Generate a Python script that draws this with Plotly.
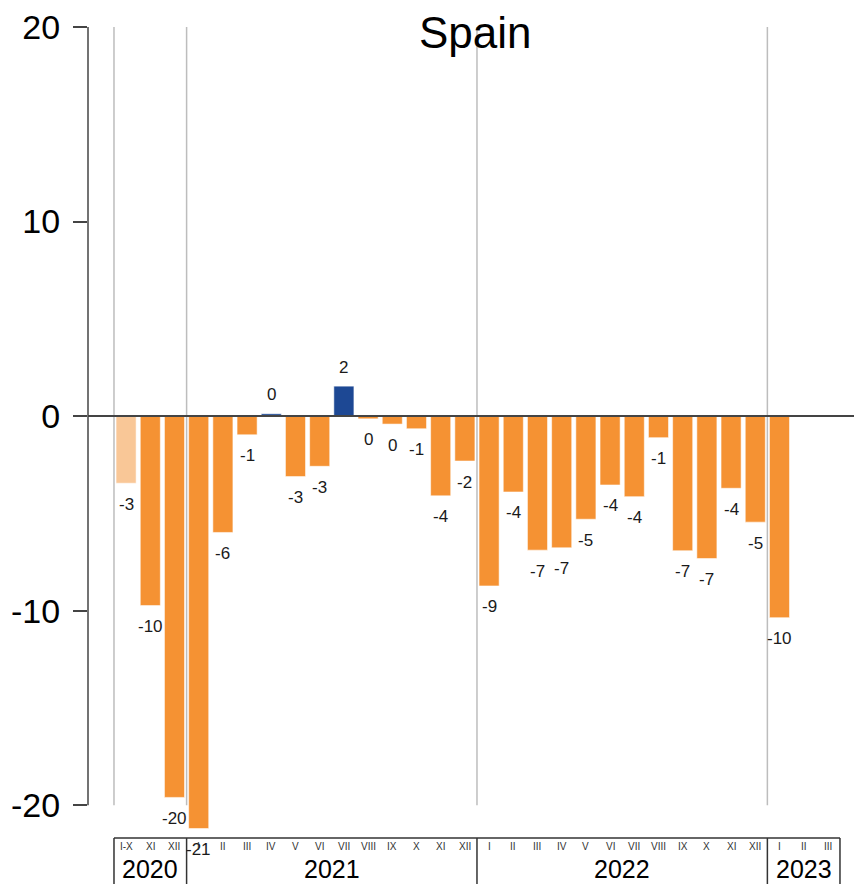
import plotly.graph_objects as go

# ---------------- data ----------------
years = ["2020", "2021", "2022", "2023"]
months_2020 = ["I-X", "XI", "XII"]
months_2021 = ["I", "II", "III", "IV", "V", "VI", "VII", "VIII", "IX", "X", "XI", "XII"]
months_2022 = ["I", "II", "III", "IV", "V", "VI", "VII", "VIII", "IX", "X", "XI", "XII"]
months_2023 = ["I", "II", "III"]

values_2020 = [-3.45, -9.74, -19.6]
values_2021 = [-21.2, -5.98, -0.96, 0.12, -3.11, -2.58, 1.54, -0.14, -0.41, -0.65, -4.1, -2.31]
values_2022 = [-8.73, -3.9, -6.89, -6.77, -5.3, -3.54, -4.14, -1.11, -6.92, -7.32, -3.71, -5.45]
values_2023 = [-10.36, None, None]

y_tick_vals = [20, 10, 0, -10, -20]
y_tick_text = ["20", "10", "0", "-10", "-20"]
title = "Spain"

# ---------------- build ----------------
groups = list(zip(years, [months_2020, months_2021, months_2022, months_2023],
                  [values_2020, values_2021, values_2022, values_2023]))

keys, month_labels, values = [], [], []
for yr, ms, vs in groups:
    for m, v in zip(ms, vs):
        keys.append(f"{yr} {m}")
        month_labels.append(m)
        values.append(v)

ORANGE = "#F59233"
PEACH = "#F9C797"
BLUE = "#1D4894"
colors = []
for k, v in zip(keys, values):
    if k.endswith("I-X"):
        colors.append(PEACH)
    elif v is not None and v > 0:
        colors.append(BLUE)
    else:
        colors.append(ORANGE)

FONT = "Arial, 'Liberation Sans', sans-serif"

fig = go.Figure()
fig.add_trace(go.Bar(
    x=keys, y=values,
    marker=dict(color=colors, line=dict(color="rgba(255,255,255,0.55)", width=1)),
    hoverinfo="x+y",
))

annotations = []
# value labels
for k, v in zip(keys, values):
    if v is None:
        continue
    r = int(round(v))
    annotations.append(dict(
        x=k, y=v, xref="x", yref="y", text=str(r), showarrow=False,
        yshift=(-21 if v < 0 else 19), font=dict(family=FONT, size=17, color="#1a1a1a"),
    ))

# category table
box_top = -21.69
month_y = -22.12
year_y = -23.3
bounds = [-0.5]
start = 0
year_centers = []
for yr, ms, vs in groups:
    n = len(ms)
    year_centers.append((yr, start + (n - 1) / 2))
    start += n
    bounds.append(start - 0.5)

for k, m in zip(keys, month_labels):
    annotations.append(dict(x=k, y=month_y, xref="x", yref="y", text=m, showarrow=False,
                            borderpad=0,
                            font=dict(family=FONT, size=10, color="#333333")))
for yr, c in year_centers:
    annotations.append(dict(x=c, y=year_y, xref="x", yref="y", text=yr, showarrow=False,
                            borderpad=0,
                            font=dict(family=FONT, size=25, color="#000000")))

# title
annotations.append(dict(x=0.5, y=20, xref="paper", yref="y", text=title, showarrow=False,
                        yshift=-5, yanchor="middle",
                        font=dict(family=FONT, size=44, color="#000000")))

shapes = []
# vertical grey separators
for b in bounds[:-1]:
    shapes.append(dict(type="line", xref="x", yref="y", x0=b, x1=b, y0=-20, y1=20,
                       line=dict(color="#BDBDBD", width=1.5), layer="below"))
# zero line
shapes.append(dict(type="line", xref="paper", yref="y", x0=0, x1=1, y0=0, y1=0,
                   line=dict(color="#444444", width=2), layer="above"))
# y axis line
shapes.append(dict(type="line", xref="paper", yref="y", x0=0, x1=0, y0=-20, y1=20,
                   line=dict(color="#444444", width=1.5), layer="above"))
# table box
shapes.append(dict(type="line", xref="x", yref="y", x0=bounds[0], x1=bounds[-1],
                   y0=box_top, y1=box_top, line=dict(color="#333333", width=1.5)))
for b in bounds:
    shapes.append(dict(type="line", xref="x", yref="y", x0=b, x1=b, y0=box_top, y1=-25,
                       line=dict(color="#333333", width=1.5)))

# page body has an 8px margin, so the figure is 8px smaller and margins 8px tighter
fig.update_layout(
    width=854, height=876,
    margin=dict(l=80, r=0, t=17, b=0),
    paper_bgcolor="white", plot_bgcolor="white",
    showlegend=False,
    bargap=0.17,
    font=dict(family=FONT),
    annotations=annotations,
    shapes=shapes,
    xaxis=dict(type="category", categoryorder="array", categoryarray=keys,
               range=[-1.574, 30.41], showticklabels=False, ticks="",
               showgrid=False, zeroline=False, showline=False, fixedrange=True),
    yaxis=dict(range=[-24.05, 20], tickmode="array", tickvals=y_tick_vals, ticktext=y_tick_text,
               ticks="outside", ticklen=14, tickwidth=1.5, tickcolor="#444444",
               ticklabelstandoff=6, ticklabeloverflow="allow",
               tickfont=dict(family=FONT, size=34, color="#000000"),
               showgrid=False, zeroline=False, showline=False, fixedrange=True),
)

fig.write_html("out.html")
